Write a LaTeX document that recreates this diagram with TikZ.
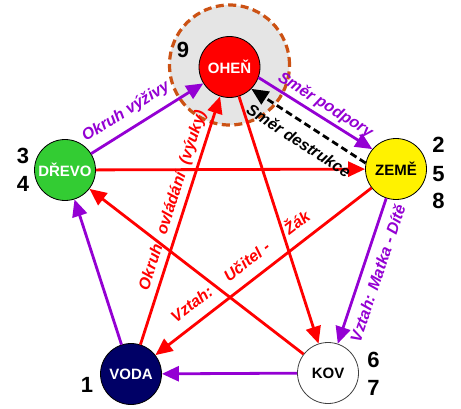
\documentclass[tikz,border=0pt]{standalone}
\usepackage{fontspec}
\setmainfont{Liberation Sans}
\usetikzlibrary{arrows.meta}
\definecolor{vio}{HTML}{9400D3}
\definecolor{ringc}{HTML}{CC5214}
\definecolor{ringfill}{HTML}{E5E5E5}
\definecolor{woodg}{HTML}{33CC33}
\definecolor{waterb}{HTML}{000066}
\begin{document}
\begin{tikzpicture}[x=1pt,y=1pt,
  elem/.style={circle, draw=black, line width=0.8pt, minimum size=61pt, inner sep=0pt,
    font=\bfseries\fontsize{15}{17}\selectfont},
  num/.style={font=\bfseries\fontsize{22}{24}\selectfont, inner sep=0pt},
  arr/.style={line width=2.8pt, -{Triangle[length=17pt,width=15pt]}},
  sup/.style={arr, draw=vio},
  ctl/.style={arr, draw=red},
  des/.style={arr, draw=black, dash pattern=on 7pt off 4pt},
  lab/.style={font=\bfseries\itshape\fontsize{16}{18}\selectfont, sloped, inner xsep=0pt},
]
\useasboundingbox (0,0) rectangle (461,408);
\node[circle, fill=ringfill, draw=ringc, line width=3.2pt, dash pattern=on 8pt off 4.5pt,
  minimum size=120pt, inner sep=0pt] (ring) at (229.5,343) {};
\node[elem, fill=red, text=white] (fire) at (229.5,341) {OHEŇ};
\node[elem, fill=woodg, text=white] (wood) at (65,238) {DŘEVO};
\node[elem, fill=yellow, text=black] (earth) at (396,239) {ZEMĚ};
\node[elem, fill=waterb, text=white] (water) at (131,34) {VODA};
\node[elem, fill=white, draw=black!75, text=black] (metal) at (328,35) {KOV};

\node[num] (n9) at (183,358) {9};
\node[num] (n3) at (23,252) {3};
\node[num] (n4) at (23,224) {4};
\node[num] (n2) at (438.5,263) {2};
\node[num] (n5) at (438.5,234) {5};
\node[num] (n8) at (438.5,207) {8};
\node[num] (n1) at (87,23) {1};
\node[num] (n6) at (373.5,48) {6};
\node[num] (n7) at (373.5,20) {7};

% control star (red)
\draw[ctl] (wood) -- (earth);
\draw[ctl] (earth) -- node[lab, text=red, above, inner ysep=11pt, pos=0.556] {Vztah:\hspace{19pt}Učitel -\hspace{23pt}Žák} (water);
\draw[ctl] (water) -- node[lab, text=red, above, inner ysep=4pt, pos=0.565] {Okruh\hspace{11pt}ovládání\hspace{9pt}(výuky)} (fire);
\draw[ctl] (fire) -- (metal);
\draw[ctl] (metal) -- (wood);

% support cycle (violet)
\draw[sup] (wood) -- node[lab, text=vio, above, inner ysep=8pt, pos=0.39] {Okruh výživy} (fire);
\draw[sup] (fire.-20) -- node[lab, text=vio, above, inner ysep=3pt, pos=0.53] {Směr podpory} (earth.140);
\draw[sup] (earth) -- node[lab, text=vio, below, inner ysep=8pt, pos=0.48] {Vztah: Matka - Dítě} (metal);
\draw[sup] (metal) -- (water);
\draw[sup] (water) -- (wood);

% destruction direction (dashed)
\draw[des] (earth.169) -- node[lab, text=black, below, inner ysep=10pt, pos=0.5] {Směr destrukce} (fire.-45);
\end{tikzpicture}
\end{document}
